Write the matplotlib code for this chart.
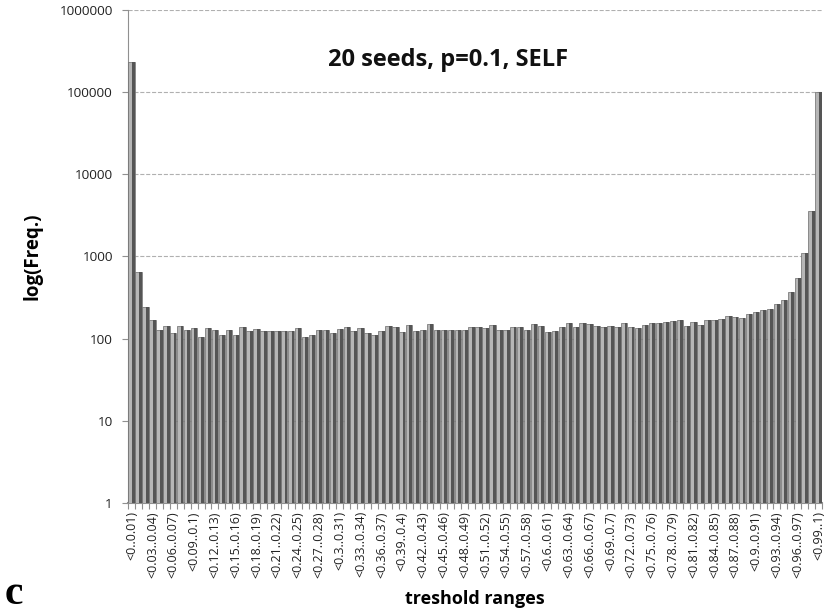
import matplotlib
matplotlib.use("Agg")
import matplotlib.pyplot as plt
from matplotlib.ticker import FixedLocator, NullFormatter

# frequencies per threshold bin
freq = [235000, 650, 240, 168, 127, 142, 118, 142, 127, 133,
        103, 133, 127, 110, 127, 110, 138, 122, 130, 122,
        122, 122, 122, 122, 133, 103, 110, 127, 127, 118,
        130, 140, 122, 133, 118, 110, 125, 142, 138, 120,
        146, 125, 128, 150, 128, 128, 128, 128, 128, 140,
        140, 133, 146, 128, 128, 140, 138, 128, 152, 142,
        120, 125, 140, 155, 138, 155, 150, 142, 140, 142,
        140, 155, 140, 136, 145, 155, 155, 160, 163, 168,
        142, 160, 145, 168, 168, 173, 190, 185, 180, 200,
        210, 225, 230, 265, 298, 370, 540, 1100, 3600, 100000]

bins = [f"<{i/100:g}..{(i+1)/100:g})" for i in range(100)]
shown = list(range(0, 100, 3))
yticks = [1, 10, 100, 1000, 10000, 100000, 1000000]

plt.rcParams['font.family'] = ['Open Sans', 'DejaVu Sans']

fig = plt.figure(figsize=(8.27, 6.14), dpi=100)
ax = fig.add_axes([0.155, 0.181, 0.839, 0.803])

x = list(range(len(freq)))
# light body + dark right side, a bit like the 3d excel bars
ax.bar(x, freq, width=0.92, color='#b6b6b6', edgecolor='#6a6a6a', linewidth=0.5, zorder=3)
ax.bar([i + 0.04 for i in x], freq, width=0.42, align='edge', color='#555555', linewidth=0, zorder=4)

ax.set_yscale('log')
ax.set_ylim(1, 1000000)
ax.set_xlim(-0.5, 99.5)
ax.set_yticks(yticks)
ax.set_yticklabels([str(v) for v in yticks], fontsize=9.7, color='#222222')
ax.yaxis.set_minor_locator(FixedLocator([]))
ax.tick_params(axis='y', length=4, color='#909090', pad=7)

ax.set_xticks(shown)
ax.set_xticklabels([bins[i] for i in shown], rotation=90, fontsize=9, color='#222222')
ax.xaxis.set_minor_locator(FixedLocator([i + 0.5 for i in range(-1, 100)]))
ax.xaxis.set_minor_formatter(NullFormatter())
ax.tick_params(axis='x', which='major', length=0, pad=6)
ax.tick_params(axis='x', which='minor', length=4, color='#909090', width=0.8)

ax.grid(axis='y', linestyle='--', color='#b0b0b0', linewidth=0.8, zorder=0)
for s in ['top', 'right']:
    ax.spines[s].set_visible(False)
ax.spines['left'].set_color('#909090')
ax.spines['bottom'].set_color('#909090')
ax.spines['bottom'].set_linewidth(1.5)

ax.set_ylabel('log(Freq.)', fontsize=13.5, fontweight='bold')
ax.yaxis.set_label_coords(-0.124, 0.5)
ax.set_xlabel('treshold ranges', fontsize=13, fontweight='bold')
ax.xaxis.set_label_coords(0.5, -0.176)
ax.text(0.461, 0.899, '20 seeds, p=0.1, SELF', transform=ax.transAxes, ha='center',
        va='center', fontsize=17, fontweight='bold', color='#111111')

fig.text(0.006, 0.016, 'c', fontsize=30, fontweight='bold', family='Liberation Serif')

fig.savefig('out.png', dpi=100)
